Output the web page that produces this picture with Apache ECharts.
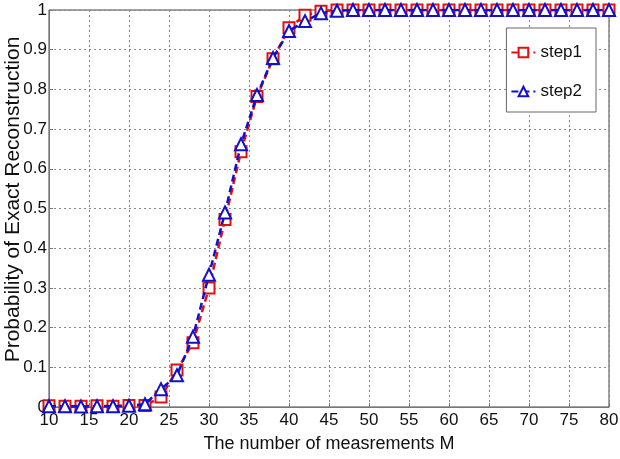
<!DOCTYPE html>
<html>
<head>
<meta charset="utf-8">
<script src="https://cdn.jsdelivr.net/npm/echarts@6/dist/echarts.min.js"></script>
<style>
  html, body { margin: 0; padding: 0; background: #fff; }
  #panel { width: 620px; height: 459px; }
</style>
</head>
<body>
<div id="panel"></div>
<script>
// measurement counts M
var measurements = [10, 12, 14, 16, 18, 20, 22, 24, 26, 28, 30, 32, 34, 36, 38, 40, 42, 44,
    46, 48, 50, 52, 54, 56, 58, 60, 62, 64, 66, 68, 70, 72, 74, 76, 78, 80];
var step1 = [0.003, 0.002, 0.002, 0.003, 0.002, 0.004, 0.004, 0.025, 0.093, 0.162, 0.300, 0.472, 0.643, 0.782, 0.877, 0.955, 0.987, 0.997,
    1, 1, 1, 1, 1, 1, 1, 1, 1, 1, 1, 1, 1, 1, 1, 1, 1, 1];
var step2 = [0.002, 0.002, 0.001, 0.002, 0.002, 0.003, 0.007, 0.045, 0.080, 0.177, 0.333, 0.490, 0.662, 0.786, 0.879, 0.947, 0.972, 0.992,
    0.998, 1, 1, 1, 1, 1, 1, 1, 1, 1, 1, 1, 1, 1, 1, 1, 1, 1];
var seriesNames = ['step1', 'step2'];

function pairs(ys) {
    return measurements.map(function (m, i) { return [m, ys[i]]; });
}

var font = 'Liberation Sans, Arial, sans-serif';

var options = {
    backgroundColor: '#fff',
    animation: false,
    grid: {
        left: 49, right: 11, top: 10, bottom: 52,
        outerBoundsMode: 'none',
        containLabel: false,
        show: true, borderColor: '#444', borderWidth: 1
    },
    legend: {
        right: 24, top: 28,
        orient: 'vertical',
        align: 'left',
        itemGap: 22,
        itemWidth: 24, itemHeight: 12,
        padding: [16, 14, 12, 4],
        backgroundColor: '#fff',
        borderColor: '#666', borderWidth: 1,
        textStyle: { fontFamily: font, fontSize: 17, color: '#111' },
        data: seriesNames
    },
    xAxis: {
        type: 'value',
        min: 10, max: 80, interval: 5,
        name: 'The number of measrements M',
        nameLocation: 'middle',
        nameGap: 28,
        nameMoveOverlap: false,
        nameTextStyle: { fontFamily: font, fontSize: 18, color: '#111' },
        axisLine: { lineStyle: { color: '#777' } },
        axisTick: { inside: true, length: 4, lineStyle: { color: '#777' } },
        axisLabel: { fontFamily: font, fontSize: 17, color: '#111', margin: 5 },
        splitLine: { lineStyle: { color: '#888', type: [2, 3] } }
    },
    yAxis: {
        type: 'value',
        min: 0, max: 1, interval: 0.1,
        name: 'Probability of Exact Reconstruction',
        nameLocation: 'middle',
        nameGap: 25,
        nameMoveOverlap: false,
        nameTextStyle: { fontFamily: font, fontSize: 21, color: '#111', padding: [0, 0, 0, 18] },
        axisLine: { show: true, lineStyle: { color: '#777' } },
        axisTick: { show: true, inside: true, length: 4, lineStyle: { color: '#777' } },
        axisLabel: {
            fontFamily: font, fontSize: 17, color: '#111', margin: 2,
            formatter: function (v) { return String(Math.round(v * 10) / 10); }
        },
        splitLine: { lineStyle: { color: '#888', type: [2, 3] } }
    },
    series: [{
        name: 'step1',
        type: 'line',
        data: pairs(step1),
        symbol: 'rect',
        symbolSize: 11,
        lineStyle: { color: '#e01010', width: 2.5, type: [7, 4] },
        itemStyle: { color: '#fff', borderColor: '#e01010', borderWidth: 2 },
        z: 2
    }, {
        name: 'step2',
        type: 'line',
        data: pairs(step2),
        symbol: 'triangle',
        symbolSize: 12,
        lineStyle: { color: '#1010d0', width: 2.5, type: [7, 4] },
        itemStyle: { color: '#fff', borderColor: '#1010d0', borderWidth: 2 },
        z: 3
    }]
};

var myChart = echarts.init(document.getElementById('panel'));
myChart.setOption(options);
</script>
</body>
</html>
